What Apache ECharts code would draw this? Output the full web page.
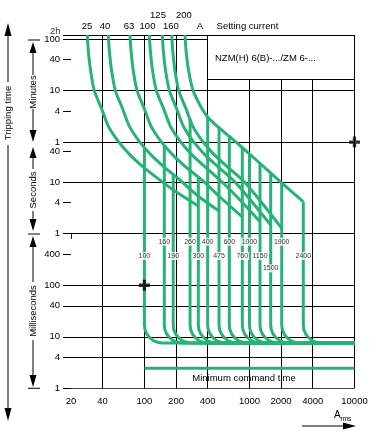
<!DOCTYPE html>
<html><head><meta charset="utf-8">
<script src="https://cdn.jsdelivr.net/npm/echarts@6/dist/echarts.min.js"></script>
<style>html,body{margin:0;padding:0;background:#fff}#c{width:382px;height:434px}</style>
</head><body><div id="c"></div>
<script>
// ---------------- data (amperes / seconds) ----------------
const xTickValues = [20, 40, 100, 200, 400, 1000, 2000, 4000, 10000];
const xTickLabels = ['20', '40', '100', '200', '400', '1000', '2000', '4000', '10000'];
const yTickValues = [7200, 6000, 2400, 600, 240, 60, 40, 10, 4, 1, 0.4, 0.1, 0.04, 0.01, 0.004, 0.001];
const yTickLabels = ['2h', '100', '40', '10', '4', '1', '40', '10', '4', '1', '400', '100', '40', '10', '4', '1'];

const settingLabels = ['25', '40', '63', '100', '125', '160', '200', 'A', 'Setting current'];
const settingLabelAt = [28.4, 42.1, 71.3, 107, 134.7, 179, 238, 338, 958];
const raisedLabels = ['125', '200'];

// overload release curves for each setting current
const curve25 = [[28.6,7200],[29.2,3680],[30.7,1500],[33.3,608],[39.2,264],[45.3,123],[56.4,62],[72.9,34],[97.6,19.7],[140.7,11],[199.8,6.5],[326,3.45]];
const curve40 = [[45.3,7200],[46.3,3680],[48.6,1500],[52.8,608],[62.1,264],[71.8,123],[89.4,62],[115.5,34],[154.6,19.7],[223,10.56],[324,5.4],[513,2.76]];
const curve63 = [[72.9,7200],[74.5,3680],[78.2,1500],[85,608],[100,264],[115.5,123],[143.8,62],[185.9,34],[248.8,19.7],[361,10.56],[524,5.16],[855,2.11]];
const curve100 = [[111.3,7200],[113.8,3680],[119.4,1500],[129.8,608],[152.6,264],[176.4,123],[219.6,62],[283.8,34],[379.8,19.7],[548,10.1],[813,4.52],[1260,1.71]];
const curve125 = [[148,7200],[151.2,3680],[158.8,1500],[172.6,608],[203,264],[234.6,123],[292,62],[377.4,34],[505,19.7],[728,10.1],[1058,4.13],[1593,1.48]];
const curve160 = [[181.9,7200],[185.9,3680],[195,1500],[212,608],[249.4,264],[288.2,123],[358.8,62],[463.8,34],[620.6,19.7],[895,10.1],[1316,3.95],[2028,1.275]];
const curve200 = [[243.4,7200],[248.8,3680],[262.8,1500],[290,608],[345.6,288],[400,184.5],[501.8,118],[643,77.2],[907,42.2],[1346,20.6],[2028,9.68],[3255,4.19]];
const overloadCurves = [curve25, curve40, curve63, curve100, curve125, curve160, curve200];

// short-circuit release settings: position, top of vertical (s), label and label height (s)
const instValues = [100, 154.6, 188, 272, 326, 400, 513, 643, 855, 1000, 1260, 1593, 2028, 3255];
const instLabels = ['100', '160', '190', '260', '300', '400', '475', '600', '760', '1000', '1150', '1500', '1900', '2400'];
const instTops = [48, 52, 14.1, 169, 12.6, 184.5, 114, 77.2, 47, 35, 23.3, 15.1, 9.68, 4.19];
const instLabelTimes = [0.37, 0.70, 0.37, 0.70, 0.37, 0.70, 0.37, 0.70, 0.37, 0.70, 0.37, 0.213, 0.70, 0.37];
// knee of the instantaneous curves (current multiple, time s)
const kneeShape = [[1,0.0169],[1.013,0.0137],[1.054,0.0113],[1.122,0.0096],[1.218,0.0084],[1.339,0.0078],[1.484,0.00757]];
const floorTime = 0.00757;
const floorEnd = 10000;
const minCommandTime = 0.00244;
const minCommandFrom = 100;
const minCommandTo = 10000;

const crossPoints = [[10000, 60], [100, 0.1]];

// grid lines
const hGridTimes = [7200, 6000, 1000, 600, 60, 10, 1, 0.1, 0.04, 0.01, 0.004, 0.001];
const hGridFrom  = [20, 20, 400, 20, 20, 20, 20, 20, 20, 20, 20, 20];
const hGridTo    = [10000, 400, 10000, 10000, 10000, 10000, 10000, 10000, 10000, 10000, 10000, 10000];
const vGridCurrents = [40, 100, 200, 400, 1000, 2000, 4000, 10000];
const vGridTop      = [7200, 7200, 7200, 7200, 1000, 1000, 1000, 7200];
const vGridBottom = 0.001;

// ---------------- chart ----------------
const L = v => Math.log10(v);
const xy = p => [L(p[0]), L(p[1])];
const GREEN = '#27b276';
const FONT = "'Liberation Sans', Arial, sans-serif";
const NARROW = "'Liberation Sans Narrow', 'Liberation Sans', Arial, sans-serif";
function nearestIdx(arr, v) { let b = 0; for (let i = 1; i < arr.length; i++) if (Math.abs(arr[i] - v) < Math.abs(arr[b] - v)) b = i; return b; }
const xTickLogs = xTickValues.map(L), yTickLogs = yTickValues.map(L), setLogs = settingLabelAt.map(L);
// the topmost "2h" label is drawn separately (it sits just above the "100" label)
const yLabelLogs = yTickLogs.slice(1);

const series = [];
const gridSegs = [];
hGridTimes.forEach((t, i) => gridSegs.push({ coords: [[L(hGridFrom[i]), L(t)], [L(hGridTo[i]), L(t)]] }));
vGridCurrents.forEach((c, i) => gridSegs.push({ coords: [[L(c), L(vGridBottom)], [L(c), L(vGridTop[i])]] }));
series.push({ type: 'lines', coordinateSystem: 'cartesian2d', data: gridSegs, silent: true, z: 1,
  lineStyle: { color: '#000', width: 1, opacity: 1 } });

overloadCurves.forEach(c => series.push({ type: 'line', data: c.map(xy), symbol: 'none', showSymbol: false,
  smooth: 0.25, silent: true, z: 3, lineStyle: { color: GREEN, width: 3, join: 'round' } }));

instValues.forEach((I, i) => {
  const pts = [[I, instTops[i]]].concat(kneeShape.map(k => [I * k[0], k[1]]), [[floorEnd, floorTime]]);
  series.push({ type: 'line', data: pts.map(xy), symbol: 'none', showSymbol: false, silent: true, z: 3,
    lineStyle: { color: GREEN, width: 3, join: 'round' } });
});
series.push({ type: 'line', data: [[minCommandFrom, minCommandTime], [minCommandTo, minCommandTime]].map(xy),
  symbol: 'none', silent: true, z: 3, lineStyle: { color: GREEN, width: 3 } });

series.push({ type: 'scatter', silent: true, z: 5, symbol: 'rect', symbolSize: 1, itemStyle: { color: 'rgba(0,0,0,0)' },
  data: instValues.map((I, i) => [L(I), L(instLabelTimes[i])]),
  label: { show: true, position: 'inside', formatter: p => instLabels[p.dataIndex], fontSize: 7, fontFamily: NARROW,
    color: '#000', backgroundColor: '#fff', padding: [1, 1, 0, 1] } });

// "2h" label placed at the top tick through the scale (label on an invisible point)
series.push({ type: 'scatter', silent: true, z: 5, clip: false, symbol: 'rect', symbolSize: 1, itemStyle: { color: 'rgba(0,0,0,0)' },
  data: [[L(xTickValues[0]), yTickLogs[0]]],
  label: { show: true, position: 'left', distance: 10, offset: [0, -4], formatter: yTickLabels[0], fontSize: 9.5,
    fontFamily: FONT, color: '#000' } });

series.push({ type: 'scatter', silent: true, z: 6, clip: false,
  symbol: 'path://M3.5,0H6.5V3.5H10V6.5H6.5V10H3.5V6.5H0V3.5H3.5Z', symbolSize: 11,
  itemStyle: { color: '#000' }, data: crossPoints.map(xy) });

const lblStyle = { fontSize: 9.5, fontFamily: FONT, color: '#000', hideOverlap: false };
const ln = (x1, y1, x2, y2) => ({ type: 'line', silent: true, shape: { x1, y1, x2, y2 }, style: { stroke: '#000', lineWidth: 1 } });
const tri = pts => ({ type: 'polygon', silent: true, shape: { points: pts }, style: { fill: '#000' } });
const txt = (x, y, text, opts) => Object.assign({ type: 'text', silent: true, x, y,
  style: Object.assign({ text, fontSize: 9.5, fontFamily: FONT, fill: '#000', align: 'center', verticalAlign: 'middle' }, (opts && opts.style) || {}) },
  (opts && opts.el) || {});
const up = (x, tip, base) => tri([[x, tip], [x - 3.5, base], [x + 3.5, base]]);
const down = (x, tip, base) => tri([[x, tip], [x - 3.5, base], [x + 3.5, base]]);
const R = Math.PI / 2;

const graphics = [
  // Tripping time
  up(8, 23, 36), ln(8, 36, 8, 82), txt(8, 113, 'Tripping time', { el: { rotation: R } }), ln(8, 145, 8, 409), down(8, 421, 408),
  // Minutes
  ln(28, 40, 40, 40), up(33, 42, 53), ln(33, 53, 33, 75), txt(33, 92, 'Minutes', { el: { rotation: R } }),
  ln(33, 109, 33, 130), down(33, 142, 130),
  // Seconds
  up(33, 147, 158), ln(33, 158, 33, 169), txt(33, 190, 'Seconds', { el: { rotation: R } }),
  ln(33, 211, 33, 219), down(33, 231, 219), ln(28, 234, 40, 234),
  // Milliseconds
  up(33, 236, 247), ln(33, 247, 33, 282), txt(33, 311, 'Milliseconds', { el: { rotation: R } }),
  ln(33, 340, 33, 375), down(33, 387, 375), ln(28, 388.3, 40, 388.3),
  // texts
  txt(215, 58, 'NZM(H) 6(B)-.../ZM 6-...', { style: { align: 'left' } }),
  txt(244, 378, 'Minimum command time'),
  txt(334, 415.5, 'A', { style: { align: 'left', fontSize: 10 } }),
  txt(340.5, 419, 'rms', { style: { align: 'left', fontSize: 6.5 } }),
  ln(302, 426, 344, 426), tri([[356, 426], [343, 422.5], [343, 429.5]])
];

const chart = echarts.init(document.getElementById('c'), null, { renderer: 'canvas' });
chart.setOption({
  animation: false,
  backgroundColor: '#fff',
  grid: { left: 71, right: 27.5, top: 35, bottom: 45.7, containLabel: false, outerBoundsMode: 'none' },
  xAxis: [{
    type: 'value', min: L(20), max: L(10000), position: 'bottom',
    axisLine: { show: false }, splitLine: { show: false },
    axisTick: { show: true, customValues: xTickLogs, length: 5, lineStyle: { color: '#000', width: 1 } },
    axisLabel: Object.assign({ customValues: xTickLogs, margin: 8, formatter: v => xTickLabels[nearestIdx(xTickLogs, v)] }, lblStyle)
  }, {
    type: 'value', min: L(20), max: L(10000), position: 'top',
    axisLine: { show: false }, splitLine: { show: false }, axisTick: { show: false },
    axisLabel: Object.assign({ customValues: setLogs, margin: 4,
      formatter: v => { const s = settingLabels[nearestIdx(setLogs, v)]; return raisedLabels.indexOf(s) >= 0 ? '{hi|' + s + '}' : '{n|' + s + '}'; },
      rich: { n: { fontSize: 9.5, fontFamily: FONT, color: '#000' }, hi: { fontSize: 9.5, fontFamily: FONT, color: '#000', padding: [0, 0, 11, 0] } }
    }, lblStyle)
  }],
  yAxis: {
    type: 'value', min: -3, max: L(7200),
    axisLine: { show: false }, splitLine: { show: false },
    axisTick: { show: true, customValues: yTickLogs, length: 8, lineStyle: { color: '#000', width: 1 } },
    axisLabel: Object.assign({ customValues: yLabelLogs, margin: 11,
      formatter: v => yTickLabels[nearestIdx(yTickLogs, v)] }, lblStyle)
  },
  series: series,
  graphic: { elements: graphics }
});
</script></body></html>
